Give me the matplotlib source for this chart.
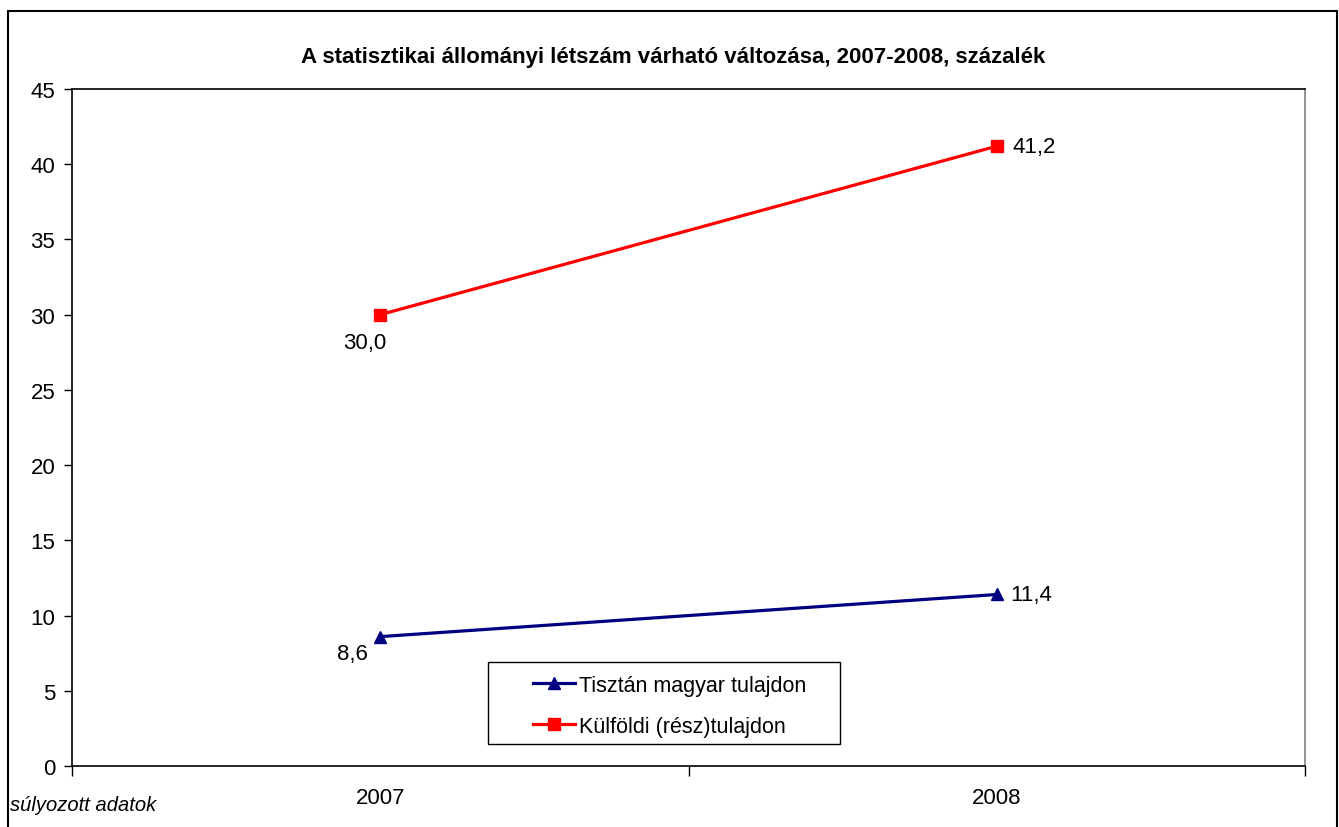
import matplotlib
matplotlib.use("Agg")
import matplotlib.pyplot as plt
from matplotlib.patches import Rectangle

plt.rcParams['font.family'] = ['Liberation Sans', 'DejaVu Sans']

years = ["2007", "2008"]
magyar = [8.6, 11.4]
kulfoldi = [30.0, 41.2]
magyar_labels = ["8,6", "11,4"]
kulfoldi_labels = ["30,0", "41,2"]
title = "A statisztikai állományi létszám várható változása, 2007-2008, százalék"

W, H = 1339, 828
fig = plt.figure(figsize=(13.39, 8.28), dpi=100)
ax = fig.add_axes([72/W, 1-767/H, (1305-72)/W, (767-90)/H])

xs = [0.5, 1.5]
ax.plot(xs, magyar, color='#000080', lw=2.3, marker='^', ms=9, label='Tisztán magyar tulajdon')
ax.plot(xs, kulfoldi, color='#FF0000', lw=2.3, marker='s', ms=8.5, label='Külföldi (rész)tulajdon')

fs = 16
ax.set_xlim(0, 2)
ax.set_ylim(0, 45)
ax.set_yticks(range(0, 46, 5))
ax.set_xticks([0, 1, 2])
ax.set_xticklabels([])
ax.set_xticks(xs, minor=True)
ax.set_xticklabels(years, minor=True)
ax.tick_params(axis='x', which='minor', length=0, pad=15, labelsize=fs)
ax.tick_params(axis='x', which='major', direction='out', length=7, width=1)
ax.tick_params(axis='y', direction='out', length=6, width=1, labelsize=fs, pad=6)
for s in ax.spines.values():
    s.set_linewidth(1.2)
    s.set_color('black')
ax.spines['right'].set_color('#808080')

# data labels
ax.annotate(kulfoldi_labels[0], (xs[0], kulfoldi[0]), xytext=(-11, -20), textcoords='offset points',
            ha='center', va='center', fontsize=fs)
ax.annotate(kulfoldi_labels[1], (xs[1], kulfoldi[1]), xytext=(11, 0), textcoords='offset points',
            ha='left', va='center', fontsize=fs)
ax.annotate(magyar_labels[0], (xs[0], magyar[0]), xytext=(-20, -12), textcoords='offset points',
            ha='center', va='center', fontsize=fs)
ax.annotate(magyar_labels[1], (xs[1], magyar[1]), xytext=(10, 0), textcoords='offset points',
            ha='left', va='center', fontsize=fs)

# legend box
def ax_xy(px, py):
    return ((px-72)/(1305-72), (767-py)/(767-90))

x0, y0 = ax_xy(488, 745)
x1, y1 = ax_xy(840, 663)
ax.add_patch(Rectangle((x0, y0), x1-x0, y1-y0, transform=ax.transAxes, fill=True,
                       facecolor='white', edgecolor='black', lw=1.0, zorder=4))
lx, ly = ax_xy(533, 676)
leg = ax.legend(loc='upper left', bbox_to_anchor=(lx, ly),
                fontsize=15.5, frameon=False,
                borderpad=0, labelspacing=0.92, handlelength=1.95, handletextpad=0.2,
                borderaxespad=0)
leg.set_zorder(5)

fig.text(673/W, 1-58/H, title, ha='center', va='center', fontsize=fs, fontweight='bold')
fig.text(10/W, 1-806/H, "súlyozott adatok", ha='left', va='center', fontsize=14.5, style='italic')

fig.patches.append(Rectangle((8/W, -0.05), (1337-8)/W, 1.05-12/H, transform=fig.transFigure,
                             fill=False, edgecolor='black', lw=1.5))

fig.savefig("out.png", dpi=100)
